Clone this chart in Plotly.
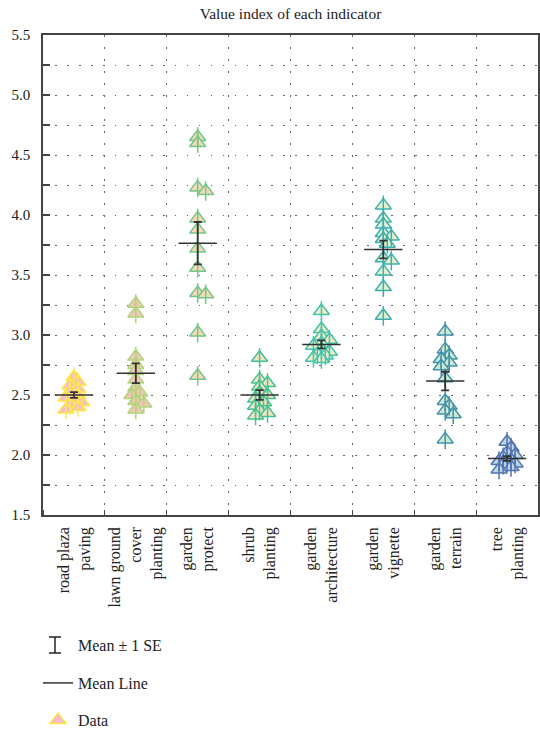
import numpy as np
import plotly.graph_objects as go

# ---------------- data ----------------
categories = ["road plaza<br>paving", "lawn ground<br>cover<br>planting", "garden<br>protect",
              "shrub<br>planting", "garden<br>architecture", "garden<br>vignette",
              "garden<br>terrain", "tree<br>planting"]

road_plaza_paving = [2.65, 2.61, 2.58, 2.55, 2.53, 2.50, 2.48, 2.46, 2.44, 2.42, 2.40, 2.38]
lawn_ground_cover_planting = [3.26, 3.18, 2.82, 2.75, 2.70, 2.63, 2.56, 2.52, 2.50, 2.45, 2.43, 2.38]
garden_protect = [4.65, 4.60, 4.23, 4.20, 3.97, 3.88, 3.72, 3.56, 3.35, 3.34, 3.02, 2.66]
shrub_planting = [2.81, 2.63, 2.60, 2.57, 2.52, 2.50, 2.47, 2.44, 2.41, 2.37, 2.35, 2.33]
garden_architecture = [3.20, 3.05, 2.99, 2.96, 2.93, 2.91, 2.88, 2.86, 2.84, 2.83, 2.81, 2.80]
garden_vignette = [4.08, 3.97, 3.92, 3.85, 3.82, 3.80, 3.76, 3.64, 3.62, 3.53, 3.40, 3.16]
garden_terrain = [3.03, 2.88, 2.83, 2.80, 2.77, 2.74, 2.64, 2.45, 2.41, 2.37, 2.34, 2.13]
tree_planting = [2.11, 2.06, 2.02, 2.00, 1.98, 1.96, 1.95, 1.94, 1.93, 1.92, 1.90, 1.88]

series = [road_plaza_paving, lawn_ground_cover_planting, garden_protect, shrub_planting,
          garden_architecture, garden_vignette, garden_terrain, tree_planting]

edge_colors = ["#FCE84A", "#AED67A", "#72C886", "#44C290", "#42C4AE", "#3CB0B0", "#4292AC", "#5274B2"]
fill_colors = ["#F5BCCC", "#F3C6B8", "#F7D8BA", "#F5E3C2", "#F2EDC8", "#E6F0CC", "#CCE9D2", "#BDD6E6"]

y_ticks = [1.5, 2.0, 2.5, 3.0, 3.5, 4.0, 4.5, 5.0, 5.5]

FONT = "Liberation Serif"
TXT = "#222222"

# --------------- layout constants ---------------
W, H = 540, 733
ML, MR, MT, MB = 43, 2, 35, 218
PLOT_W = W - ML - MR
PLOT_H = H - MT - MB
PX_X = PLOT_W / len(categories)      # pixels per category unit
PX_Y = PLOT_H / (5.5 - 1.5)          # pixels per value unit


def px_to_paper(px, py):
    return (px - ML) / PLOT_W, (MT + PLOT_H - py) / PLOT_H


def swarm(vals, step_px=4.0, min_px=6.0):
    """Simple deterministic beeswarm: horizontal offsets (in category units)."""
    vals = np.asarray(vals, dtype=float)
    order = np.argsort(-vals, kind="stable")
    cands = [0.0, step_px, -step_px, 2 * step_px, -2 * step_px]
    placed, offs = [], np.zeros(len(vals))
    for i in order:
        y = vals[i] * PX_Y
        best, bestd = 0.0, -1.0
        for c in cands:
            d = min((np.hypot(c - px, y - py) for px, py in placed), default=1e9)
            if d >= min_px:
                best = c
                break
            if d > bestd:
                bestd, best = d, c
        placed.append((best, y))
        offs[i] = best / PX_X
    return offs


fig = go.Figure()

means, ses = [], []
for k, vals in enumerate(series):
    v = np.asarray(vals, dtype=float)
    means.append(v.mean())
    ses.append(v.std(ddof=1) / np.sqrt(len(v)))
    xs = k + swarm(vals)
    fig.add_trace(go.Scatter(
        x=xs, y=v, mode="markers",
        marker=dict(symbol="triangle-up", size=14, color=fill_colors[k],
                    line=dict(color=edge_colors[k], width=1.5)),
        name="Data", legend="legend3", showlegend=(k == 0), hoverinfo="y"))
    fig.add_trace(go.Scatter(
        x=xs, y=v, mode="markers",
        marker=dict(symbol="line-ns-open", size=14, color=edge_colors[k],
                    line=dict(color=edge_colors[k], width=1.5)),
        showlegend=False, hoverinfo="skip"))

# mean lines
mx, my = [], []
for k, m in enumerate(means):
    mx += [k - 0.31, k + 0.31, None]
    my += [m, m, None]
fig.add_trace(go.Scatter(x=mx, y=my, mode="lines", line=dict(color="#333333", width=1.5),
                         name="Mean Line", legend="legend2", hoverinfo="skip"))

# mean +- 1 SE
fig.add_trace(go.Scatter(
    x=list(range(len(categories))), y=means, mode="markers",
    marker=dict(size=1, color="rgba(0,0,0,0)"),
    error_y=dict(type="data", array=ses, visible=True, color="#333333", thickness=1.8, width=4),
    showlegend=False, hoverinfo="y"))
fig.add_trace(go.Scatter(
    x=[None], y=[None], mode="markers",
    marker=dict(symbol="line-ns-open", size=1, color="rgba(0,0,0,0)", line=dict(width=0)),
    name="Mean ± 1 SE", legend="legend"))

# I-beam glyph for the "Mean ± 1 SE" legend entry
ix, top, bot, cap = 55, 637, 653, 6
for (x0, y0, x1, y1) in [(ix, top, ix, bot), (ix - cap, top, ix + cap, top), (ix - cap, bot, ix + cap, bot)]:
    a0 = px_to_paper(x0, y0)
    a1 = px_to_paper(x1, y1)
    fig.add_shape(type="line", xref="paper", yref="paper", x0=a0[0], y0=a0[1], x1=a1[0], y1=a1[1],
                  line=dict(color="#222222", width=1.5))

grid_color = "#666666"
dots = "1.5px,10.5px"

leg_x = (38 - ML) / PLOT_W


def leg(py):
    return dict(x=leg_x, y=px_to_paper(0, py)[1], xanchor="left", yanchor="middle",
                font=dict(family=FONT, size=16, color=TXT), bgcolor="rgba(0,0,0,0)")


fig.update_layout(
    width=W, height=H,
    margin=dict(l=ML, r=MR, t=MT, b=MB, autoexpand=False),
    paper_bgcolor="white", plot_bgcolor="white",
    font=dict(family=FONT, size=15, color=TXT),
    title=dict(text="Value index of each indicator", x=(ML + PLOT_W / 2) / W, xanchor="center",
               y=1 - 14 / H, yanchor="middle", yref="container",
               font=dict(family=FONT, size=15.5, color=TXT)),
    xaxis=dict(range=[-0.5, len(categories) - 0.5], tickmode="array",
               tickvals=list(range(len(categories))), ticktext=categories,
               tickangle=-90, ticks="", showgrid=False, zeroline=False,
               showline=True, mirror=True, linecolor="#444444", linewidth=1.5,
               tickfont=dict(family=FONT, size=16, color=TXT), ticklabelstandoff=4,
               minor=dict(tick0=0.5, dtick=1, ticks="inside", ticklen=5, tickcolor="#444444",
                          showgrid=True, gridcolor=grid_color, griddash=dots, gridwidth=1.3),
               automargin=False),
    yaxis=dict(range=[1.5, 5.5], tickmode="array", tickvals=y_ticks,
               ticktext=[f"{t:.1f}" for t in y_ticks],
               ticks="inside", ticklen=7, tickcolor="#444444", tickwidth=1.5,
               showgrid=True, gridcolor=grid_color, griddash=dots, gridwidth=1.3,
               zeroline=False, showline=True, mirror=True, linecolor="#444444", linewidth=1.5,
               tickfont=dict(family=FONT, size=15, color=TXT), ticklabelstandoff=8,
               minor=dict(tick0=1.75, dtick=0.5, ticks="inside", ticklen=7, tickcolor="#444444",
                          showgrid=True, gridcolor=grid_color, griddash=dots, gridwidth=1.3),
               automargin=False),
    legend=leg(645),
    legend2=leg(683),
    legend3=leg(720),
)

fig.write_html("out.html", config={"displayModeBar": False},
               post_script="document.body.style.margin='0';document.body.style.overflow='hidden';")
